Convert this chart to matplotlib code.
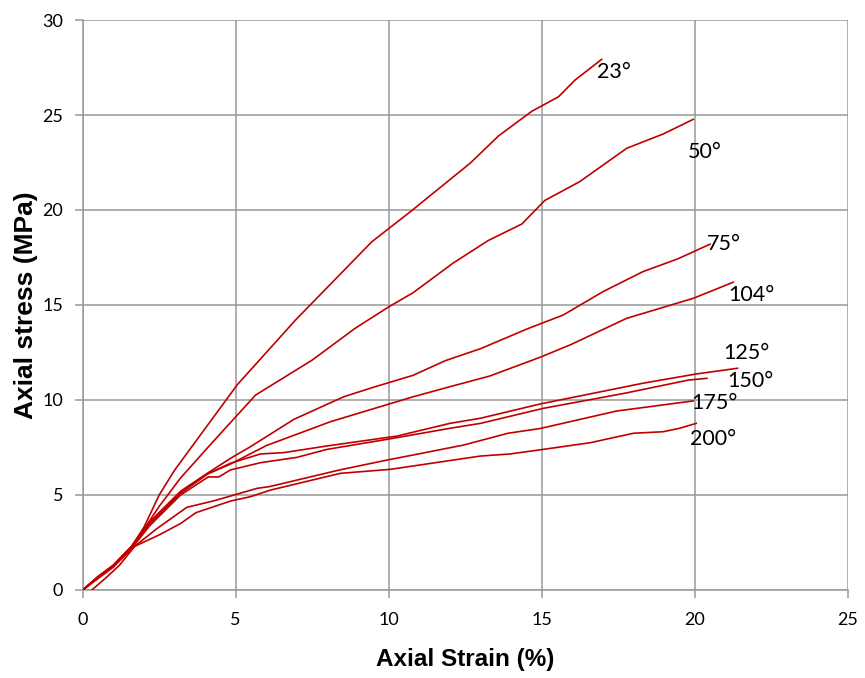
import matplotlib.pyplot as plt

# strain (%) / stress (MPa) for each temperature
x_23 = [0, 0.5, 1.0, 1.6, 2.0, 2.5, 3.0, 5.05, 6.95, 9.45, 10.7, 12.66, 13.59, 14.68, 15.55, 16.09, 16.96]
y_23 = [0, 0.7, 1.3, 2.3, 3.3, 5.0, 6.3, 10.8, 14.2, 18.33, 19.9, 22.46, 23.9, 25.2, 25.96, 26.84, 27.93]

x_50 = [0, 0.5, 1.0, 1.6, 2.0, 2.5, 3.2, 4.2, 5.65, 7.5, 8.9, 10.0, 10.8, 12.1, 13.26, 14.35, 15.1, 16.25, 17.78, 18.97, 19.95]
y_50 = [0, 0.7, 1.3, 2.3, 3.2, 4.4, 5.9, 7.7, 10.26, 12.1, 13.77, 14.9, 15.65, 17.2, 18.4, 19.26, 20.5, 21.5, 23.25, 24.0, 24.77]

x_75 = [0, 0.5, 1.0, 1.6, 2.2, 3.2, 4.07, 4.83, 5.48, 6.9, 8.53, 9.5, 10.8, 11.85, 13.0, 14.57, 15.7, 17.0, 18.3, 19.45, 20.5]
y_75 = [0, 0.7, 1.3, 2.3, 3.6, 5.2, 6.14, 6.93, 7.54, 8.98, 10.17, 10.67, 11.3, 12.07, 12.7, 13.77, 14.47, 15.7, 16.75, 17.43, 18.2]

x_104 = [0, 0.5, 1.0, 1.6, 2.2, 3.2, 4.07, 4.83, 6.0, 8.1, 10.8, 12.0, 13.3, 14.95, 15.93, 17.78, 19.95, 20.8, 21.26]
y_104 = [0, 0.65, 1.25, 2.2, 3.5, 5.1, 6.1, 6.63, 7.6, 8.86, 10.17, 10.7, 11.26, 12.25, 12.9, 14.3, 15.35, 15.9, 16.2]

x_125 = [0, 0.5, 1.0, 1.6, 2.2, 3.2, 4.07, 4.83, 5.81, 6.57, 7.98, 10.27, 12.0, 13.0, 14.95, 18.3, 20.05, 21.4]
y_125 = [0, 0.65, 1.25, 2.2, 3.5, 5.1, 6.1, 6.67, 7.16, 7.23, 7.58, 8.1, 8.77, 9.04, 9.79, 10.88, 11.37, 11.67]

x_150 = [0, 0.5, 1.0, 1.6, 2.2, 3.2, 4.1, 4.45, 4.83, 5.81, 7.0, 7.98, 9.95, 12.0, 13.0, 15.05, 17.7, 19.8, 20.4]
y_150 = [0, 0.6, 1.2, 2.2, 3.4, 5.0, 5.95, 5.95, 6.32, 6.7, 6.98, 7.4, 7.93, 8.51, 8.77, 9.56, 10.35, 11.05, 11.14]

x_175 = [0, 0.6, 1.1, 1.7, 2.4, 3.4, 4.3, 5.7, 6.1, 8.4, 9.95, 11.1, 12.45, 13.9, 14.95, 17.45, 19.95]
y_175 = [0, 0.8, 1.4, 2.3, 3.2, 4.35, 4.7, 5.35, 5.44, 6.32, 6.84, 7.2, 7.63, 8.25, 8.5, 9.42, 9.95]

x_200 = [0.3, 0.8, 1.2, 1.7, 2.5, 3.2, 3.7, 4.83, 5.48, 6.14, 8.42, 10.05, 13.0, 13.97, 15.05, 16.58, 18.0, 18.97, 19.5, 20.05]
y_200 = [0, 0.7, 1.3, 2.3, 2.9, 3.5, 4.07, 4.68, 4.91, 5.26, 6.14, 6.35, 7.05, 7.16, 7.4, 7.75, 8.25, 8.33, 8.51, 8.77]

labels = ['23°', '50°', '75°', '104°', '125°', '150°', '175°', '200°']
label_x = [16.8, 19.79, 20.41, 21.1, 20.93, 21.07, 19.9, 19.84]
label_y = [27.24, 23.03, 18.2, 15.5, 12.46, 11.0, 9.83, 7.94]

curves = [(x_23, y_23), (x_50, y_50), (x_75, y_75), (x_104, y_104),
          (x_125, y_125), (x_150, y_150), (x_175, y_175), (x_200, y_200)]

fig = plt.figure(figsize=(8.65, 6.78), dpi=100)
ax = fig.add_axes([0.0956, 0.1298, 0.8844, 0.8407])

for xs, ys in curves:
    ax.plot(xs, ys, color='#C00000', linewidth=1.2, zorder=3)

for lab, lx, ly in zip(labels, label_x, label_y):
    ax.text(lx, ly, lab, fontsize=15.5, family='Lato', va='center', ha='left', color='black')

ax.set_xlim(0, 25)
ax.set_ylim(0, 30)
ax.set_xticks(range(0, 26, 5))
ax.set_yticks(range(0, 31, 5))
ax.grid(True, color='#999999', linewidth=1.1)
ax.set_axisbelow(True)
for side in ['top', 'right']:
    ax.spines[side].set_visible(False)
for side in ['left', 'bottom']:
    ax.spines[side].set_color('#999999')
    ax.spines[side].set_linewidth(1.1)
ax.tick_params(colors='#999999', length=6, width=1.1, labelcolor='black', labelsize=13, pad=4)
for lbl in ax.get_xticklabels() + ax.get_yticklabels():
    lbl.set_family('Lato')
ax.tick_params(axis='x', pad=10)
ax.tick_params(axis='y', pad=8)

ax.set_xlabel('Axial Strain (%)', fontsize=17.5, fontweight='bold', family='Liberation Sans', labelpad=14)
ax.set_ylabel('Axial stress (MPa)', fontsize=19, fontweight='bold', family='Liberation Sans', labelpad=3)

plt.savefig('out.png', dpi=100)
